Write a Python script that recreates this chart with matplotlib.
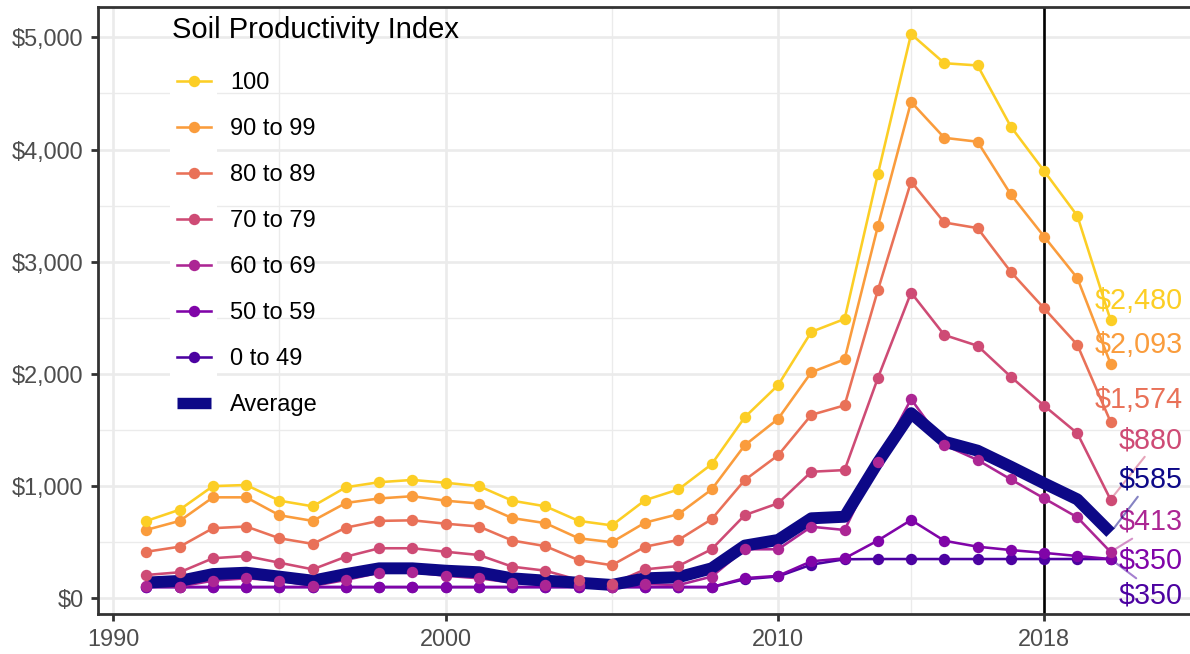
import matplotlib
matplotlib.use("Agg")
import matplotlib.pyplot as plt
from matplotlib.lines import Line2D
from matplotlib.patches import Rectangle
from matplotlib.ticker import FixedLocator, FuncFormatter
from matplotlib.legend_handler import HandlerLine2D

plt.rcParams['font.family'] = ['Liberation Sans', 'DejaVu Sans']

# ---------------- data ----------------
years = [1991, 1992, 1993, 1994, 1995, 1996, 1997, 1998, 1999, 2000,
         2001, 2002, 2003, 2004, 2005, 2006, 2007, 2008, 2009, 2010,
         2011, 2012, 2013, 2014, 2015, 2016, 2017, 2018, 2019, 2020]

spi_100 = [690, 790, 1000, 1010, 870, 820, 990, 1035, 1055, 1030,
           1000, 870, 820, 690, 650, 875, 970, 1195, 1615, 1900,
           2375, 2490, 3780, 5030, 4770, 4750, 4205, 3810, 3410, 2480]
spi_90 = [610, 690, 900, 900, 740, 690, 850, 890, 910, 870,
          845, 715, 670, 535, 500, 675, 750, 970, 1365, 1600,
          2015, 2130, 3315, 4425, 4105, 4070, 3600, 3225, 2855, 2093]
spi_80 = [415, 460, 625, 640, 535, 485, 630, 690, 695, 665,
          640, 515, 465, 340, 295, 460, 520, 705, 1055, 1275,
          1635, 1720, 2745, 3715, 3350, 3300, 2910, 2585, 2260, 1574]
spi_70 = [208, 232, 357, 377, 317, 258, 371, 446, 446, 415,
          386, 282, 246, 163, 127, 258, 288, 437, 742, 847,
          1128, 1143, 1963, 2725, 2347, 2251, 1975, 1717, 1471, 880]
spi_60 = [110, 105, 157, 178, 157, 110, 163, 228, 232, 201,
          178, 139, 118, 120, 105, 127, 118, 193, 437, 437,
          638, 609, 1215, 1776, 1366, 1233, 1060, 891, 722, 413]
spi_50 = [100, 100, 100, 100, 100, 100, 100, 100, 100, 100,
          100, 100, 100, 100, 100, 100, 100, 100, 180, 200,
          330, 356, 515, 698, 513, 460, 430, 405, 377, 350]
spi_0 = [100, 100, 100, 100, 100, 100, 100, 100, 100, 100,
         100, 100, 100, 100, 100, 100, 100, 100, 170, 195,
         300, 348, 350, 350, 350, 350, 350, 350, 350, 350]
average = [140, 155, 216, 228, 193, 157, 216, 267, 267, 246,
           232, 178, 157, 139, 119, 178, 188, 267, 470, 520,
           713, 727, 1210, 1650, 1396, 1316, 1173, 1025, 882, 585]

group_labels = ["100", "90 to 99", "80 to 89", "70 to 79",
                "60 to 69", "50 to 59", "0 to 49"]
group_values = [spi_100, spi_90, spi_80, spi_70, spi_60, spi_50, spi_0]
average_label = "Average"

legend_title = "Soil Productivity Index"
x_breaks = [1990, 2000, 2010, 2018]
x_minor = [1995, 2005, 2014]
y_breaks = [0, 1000, 2000, 3000, 4000, 5000]
y_minor = [500, 1500, 2500, 3500, 4500]
ref_year = 2018

# ---------------- styles / layout ----------------
cmap = plt.get_cmap('plasma')
levels = [0.9 * i / 7 for i in range(8)]
avg_color = cmap(levels[0])
group_colors = [cmap(levels[7 - i]) for i in range(7)]  # 100 -> brightest

LW = 1.85
MS = 8.2

label_pos = [(2020.85, 2652), (2020.85, 2258), (2020.85, 1768),
             (2021.21, 1411), (2021.21, 681), (2021.21, 341),
             (2021.21, 29)]
label_seg = [None, None, None, (0.44, 0.0), (0.28, 0.0), None, (0.33, 1.0)]
avg_label_pos = (2021.21, 1055)
avg_label_seg = (0.33, 0.0)

W, H = 1190, 654
fig = plt.figure(figsize=(W / 100, H / 100), dpi=100)
ax = fig.add_axes([97.6 / W, 1 - 614 / H, 1 - 97.6 / W, (614 - 7) / H])

ax.set_xlim(1989.53, 2022.39)
ax.set_ylim(-140, 5271)

grid_c = '#EBEBEB'
ax.xaxis.set_major_locator(FixedLocator(x_breaks))
ax.xaxis.set_minor_locator(FixedLocator(x_minor))
ax.yaxis.set_major_locator(FixedLocator(y_breaks))
ax.yaxis.set_minor_locator(FixedLocator(y_minor))
ax.yaxis.set_major_formatter(FuncFormatter(lambda v, p: "${:,.0f}".format(v)))
ax.grid(which='major', color=grid_c, lw=1.9)
ax.grid(which='minor', color=grid_c, lw=0.95)
ax.set_axisbelow(True)

for s in ['left', 'bottom', 'top']:
    ax.spines[s].set_color('#333333')
    ax.spines[s].set_linewidth(2.0)
ax.spines['right'].set_visible(False)

ax.tick_params(which='major', length=5.2, width=2.0, color='#333333',
               labelsize=16.9, labelcolor='#4D4D4D', pad=5.0)
ax.tick_params(which='minor', length=0)

ax.axvline(ref_year, color='black', lw=1.9, zorder=1.5)

for i in range(6, -1, -1):
    ax.plot(years, group_values[i], color=group_colors[i], lw=LW,
            zorder=2 + (6 - i) * 0.01, solid_capstyle='butt')
ax.plot(years, average, color=avg_color, lw=8.6, zorder=3,
        solid_joinstyle='round', solid_capstyle='butt')
for i in range(6, -1, -1):
    ax.plot(years, group_values[i], linestyle='none', marker='o',
            ms=MS, mew=0, color=group_colors[i], zorder=4 + (6 - i) * 0.01)


def end_label(val, color, pos, seg):
    txt = "${:,.0f}".format(val)
    if seg is None:
        ax.text(pos[0], pos[1], txt, color=color, fontsize=20.7,
                ha='center', va='center', zorder=6, clip_on=False)
    else:
        ax.annotate(txt, xy=(years[-1], val), xytext=pos,
                    textcoords='data', color=color, fontsize=20.7,
                    ha='center', va='center', zorder=6,
                    annotation_clip=False,
                    arrowprops=dict(arrowstyle='-', color=color, alpha=0.5,
                                    lw=1.5, relpos=seg, shrinkA=0,
                                    shrinkB=4))


for i in range(7):
    end_label(group_values[i][-1], group_colors[i], label_pos[i], label_seg[i])
end_label(average[-1], avg_color, avg_label_pos, avg_label_seg)


class InsetLine(HandlerLine2D):
    """Line handler drawn inset from both ends of the key box."""
    def __init__(self, inset, **kw):
        super().__init__(**kw)
        self.inset = inset

    def create_artists(self, legend, orig_handle, xdescent, ydescent,
                       width, height, fontsize, trans):
        return super().create_artists(legend, orig_handle,
                                      xdescent - self.inset, ydescent,
                                      width - 2 * self.inset, height,
                                      fontsize, trans)


handles = [Line2D([], [], color=group_colors[i], lw=LW, marker='o',
                  ms=MS, mew=0) for i in range(7)]
handles.append(Line2D([], [], color=avg_color, lw=8.2,
                      solid_capstyle='butt'))
labels = group_labels + [average_label]
fs = 17
inset_pt = 3.6
leg = ax.legend(handles, labels, title=legend_title, alignment='left',
                loc='upper left', bbox_to_anchor=(172 / W, 1 - 15.5 / H),
                bbox_transform=fig.transFigure, frameon=False,
                fontsize=fs, title_fontsize=21,
                handlelength=(34 / 1.389 + 2 * inset_pt) / fs,
                handletextpad=14 / 1.389 / fs,
                labelspacing=1.016, borderpad=0,
                borderaxespad=0, numpoints=1,
                handler_map={Line2D: InsetLine(inset_pt)})
leg.set_zorder(7)
try:
    # a little extra room between the legend title and the keys
    leg._legend_box.sep = leg._legend_box.sep + 3.6
except Exception:
    pass

fig.canvas.draw()
inv = fig.transFigure.inverted()
ext = [h.get_window_extent() for h in leg.legend_handles]
ys = [0.5 * (e.y0 + e.y1) for e in ext]
xc = 0.5 * (ext[-1].x0 + ext[-1].x1)
step = (ys[0] - ys[-1]) / (len(ys) - 1)
x0, y0 = inv.transform((xc - 23.5, ys[-1] - step / 2))
x1, y1 = inv.transform((xc + 23.5, ys[0] + step / 2))
ax.add_artist(Rectangle((x0, y0), x1 - x0, y1 - y0, transform=fig.transFigure,
                        facecolor='white', edgecolor='none', zorder=1.2,
                        clip_on=False))

fig.savefig('out.png', dpi=100)
